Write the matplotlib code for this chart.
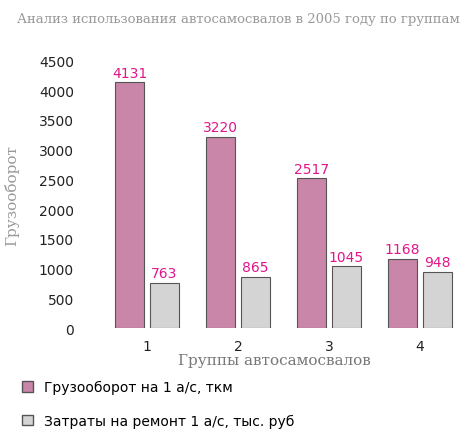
import matplotlib.pyplot as plt
import numpy as np
from matplotlib.patches import Patch

groups = ["1", "2", "3", "4"]
cargo = [4131, 3220, 2517, 1168]
repair = [763, 865, 1045, 948]
yticks = [0, 500, 1000, 1500, 2000, 2500, 3000, 3500, 4000, 4500]

c_cargo = "#c986a8"
c_repair = "#d4d4d4"
label_col = "#e0168a"

fig = plt.figure(figsize=(4.77, 4.39), dpi=100)
ax = fig.add_axes([0.165, 0.25, 0.82, 0.61])

x = np.arange(len(groups))
w = 0.32
b1 = ax.bar(x - w / 2 - 0.03, cargo, w, color=c_cargo, edgecolor="#555555", linewidth=0.8)
b2 = ax.bar(x + w / 2 + 0.03, repair, w, color=c_repair, edgecolor="#555555", linewidth=0.8)
for bars, vals in ((b1, cargo), (b2, repair)):
    for r, v in zip(bars, vals):
        ax.text(r.get_x() + r.get_width() / 2, v + 40, str(v), ha="center", va="bottom",
                color=label_col, fontsize=10)

ax.set_ylim(0, 4500)
ax.set_yticks(yticks)
ax.set_xticks(x)
ax.set_xticklabels(groups)
ax.set_xlim(-0.75, 3.55)
for s in ax.spines.values():
    s.set_visible(False)
ax.tick_params(length=0, labelsize=10, colors="#222222")
ax.tick_params(axis="x", pad=8)
ax.set_ylabel("Грузооборот", family="serif", color="#999999", fontsize=11, labelpad=14)
ax.set_xlabel("Группы автосамосвалов", family="serif", color="#777777", fontsize=11, labelpad=0)

fig.text(0.5, 0.948, "Анализ использования автосамосвалов в 2005 году по группам",
         ha="center", family="serif", color="#999999", fontsize=9.5)

handles = [Patch(facecolor=c_cargo, edgecolor="#555555"), Patch(facecolor=c_repair, edgecolor="#555555")]
fig.legend(handles, ["Грузооборот на 1 а/с, ткм", "Затраты на ремонт 1 а/с, тыс. руб"],
           loc="lower left", bbox_to_anchor=(0.02, -0.005), frameon=False, fontsize=10,
           labelspacing=1.4, handlelength=0.8, handleheight=0.8)

fig.savefig("out.png", dpi=100)
